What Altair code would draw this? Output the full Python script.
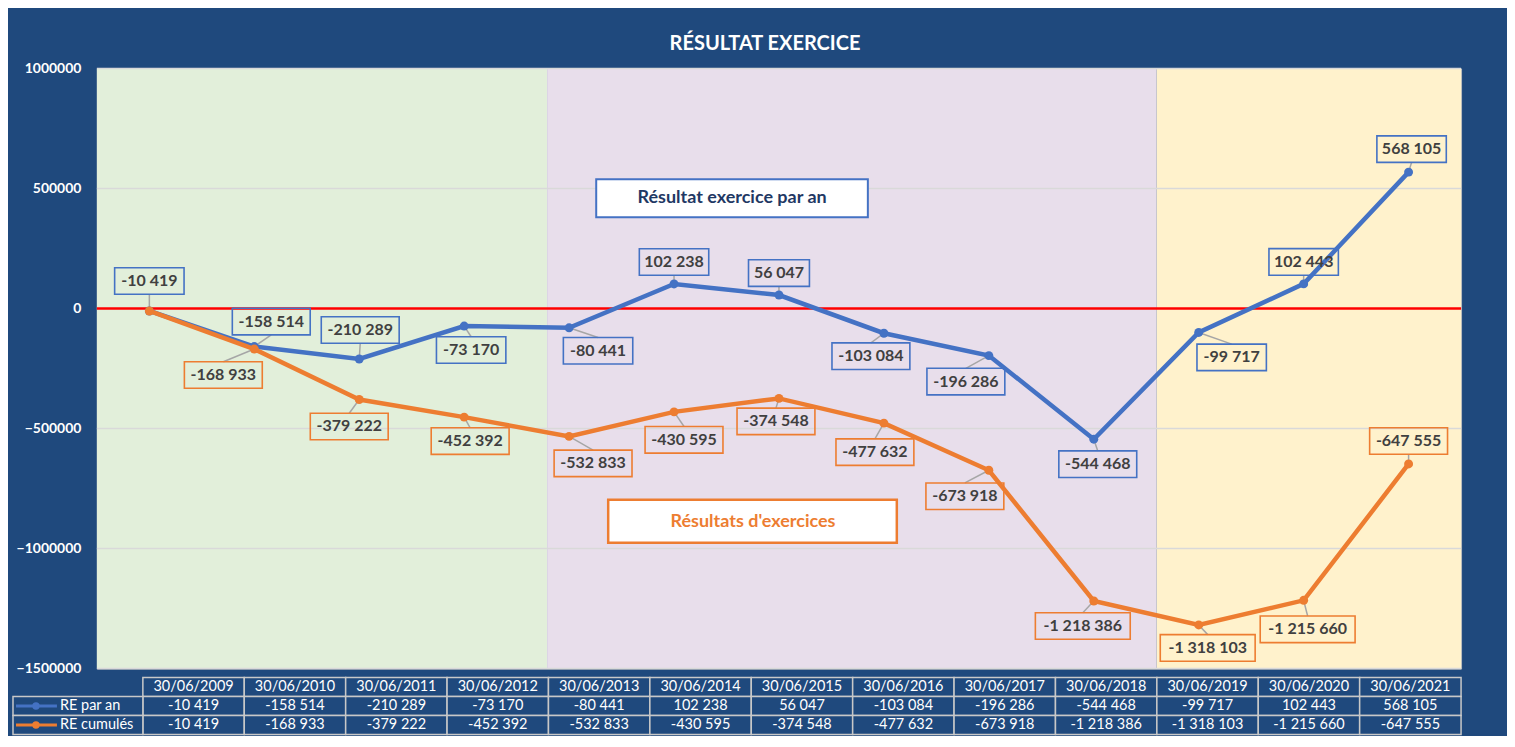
import altair as alt
import pandas as pd

# ---------------- data ----------------
dates = ["30/06/2009", "30/06/2010", "30/06/2011", "30/06/2012", "30/06/2013",
         "30/06/2014", "30/06/2015", "30/06/2016", "30/06/2017", "30/06/2018",
         "30/06/2019", "30/06/2020", "30/06/2021"]
re_par_an = [-10419, -158514, -210289, -73170, -80441, 102238, 56047,
             -103084, -196286, -544468, -99717, 102443, 568105]
re_cumules = [-10419, -168933, -379222, -452392, -532833, -430595, -374548,
              -477632, -673918, -1218386, -1318103, -1215660, -647555]
y_ticks = [1000000, 500000, 0, -500000, -1000000, -1500000]

period_names = ["2009-2012", "2013-2018", "2019-2021"]
period_start = [-0.5, 3.79, 9.6]
period_end = [3.79, 9.6, 12.5]
period_colors = ["#E2EFDA", "#E8DEEB", "#FFF2CC"]

# label placement offsets (pixels, right / down) - styling only
blue_dx = [0, 17, 1, 7, 29, 0, 0, -13, -23, 4, 33, 0, 3]
blue_dy = [-30, -25, -29, 24, 23, -22, -22, 23, 26, 25, 25, -22, -23]
orange_dx = [None, -31, -10, 6, 24, 10, -3, -9, -24, -11, 9, 4, 0]
orange_dy = [None, 26, 27, 24, 27, 28, 23, 29, 26, 25, 23, 29, -23]

BLUE = "#4472C4"
ORANGE = "#ED7D31"
BG = "#1F497D"
FONT = "Lato"

# ---------------- geometry ----------------
W, H = 1366, 601
X_DOM = [-0.5, len(dates) - 0.5]
Y_DOM = [-1500000, 1000000]
PXX = W / (X_DOM[1] - X_DOM[0])          # px per category
UPY = (Y_DOM[1] - Y_DOM[0]) / H          # data units per px
BOX_H = 26.6

x_scale = alt.Scale(domain=X_DOM, nice=False, zero=False)
y_scale = alt.Scale(domain=Y_DOM, nice=False, zero=False)


def fmt(v):
    return f"{v:,}".replace(",", " ")


series_df = pd.DataFrame({
    "i": list(range(len(dates))) * 2,
    "value": re_par_an + re_cumules,
    "series": ["RE par an"] * len(dates) + ["RE cumulés"] * len(dates),
})

rows = []
for name, col, vals, dxs, dys in [("RE par an", BLUE, re_par_an, blue_dx, blue_dy),
                                  ("RE cumulés", ORANGE, re_cumules, orange_dx, orange_dy)]:
    for i, v in enumerate(vals):
        if dxs[i] is None:
            continue
        txt = fmt(v)
        w = 8.5 * len(txt) + 10
        cx = i + dxs[i] / PXX
        cy = v - dys[i] * UPY
        edge = cy + (BOX_H / 2) * UPY if dys[i] > 0 else cy - (BOX_H / 2) * UPY
        rows.append(dict(series=name, col=col, i=i, v=v, text=txt, cx=cx, cy=cy,
                         bx1=cx - w / 2 / PXX, bx2=cx + w / 2 / PXX,
                         by1=cy - BOX_H / 2 * UPY, by2=cy + BOX_H / 2 * UPY,
                         ly=edge))
labels_df = pd.DataFrame(rows)

bands_df = pd.DataFrame({"name": period_names, "start": period_start, "end": period_end,
                         "col": period_colors,
                         "lo": [Y_DOM[0]] * 3, "hi": [Y_DOM[1]] * 3})
bands = alt.Chart(bands_df).mark_rect().encode(
    x=alt.X("start:Q", scale=x_scale, axis=None), x2="end:Q",
    y=alt.Y("lo:Q", scale=y_scale), y2="hi:Q",
    fill=alt.Fill("col:N", scale=None),
)

grid = alt.Chart(pd.DataFrame({"t": [t for t in y_ticks if t != 0]})).mark_rule(
    color="#D9D9D9", strokeWidth=1.5).encode(y=alt.Y("t:Q", scale=y_scale))

zero = alt.Chart(pd.DataFrame({"t": [0]})).mark_rule(color="#FF0000", strokeWidth=2.5).encode(
    y=alt.Y("t:Q", scale=y_scale,
            axis=alt.Axis(values=y_ticks, format="d", labelColor="white", labelFontWeight="bold",
                          labelFontSize=14, labelFont=FONT, grid=False, ticks=False, domain=False,
                          labelPadding=16, minExtent=88, title=None)))

one = pd.DataFrame({"a": [0]})
title_txt = alt.Chart(one).mark_text(text="RÉSULTAT EXERCICE", color="white", fontSize=20,
                                     fontWeight="bold", font=FONT).encode(
    x=alt.value(669), y=alt.value(-24))
ann1_box = alt.Chart(one).mark_rect(fill="white", stroke=BLUE, strokeWidth=2).encode(
    x=alt.value(500), x2=alt.value(772), y=alt.value(111), y2=alt.value(149))
ann1_txt = alt.Chart(one).mark_text(text="Résultat exercice par an", color="#1F3864", fontSize=18,
                                    fontWeight="bold", font=FONT).encode(
    x=alt.value(636), y=alt.value(130))
ann2_box = alt.Chart(one).mark_rect(fill="white", stroke=ORANGE, strokeWidth=2.5).encode(
    x=alt.value(512), x2=alt.value(801), y=alt.value(432), y2=alt.value(475))
ann2_txt = alt.Chart(one).mark_text(text="Résultats d'exercices", color=ORANGE, fontSize=18,
                                    fontWeight="bold", font=FONT).encode(
    x=alt.value(657), y=alt.value(454))

leaders = alt.Chart(labels_df).mark_rule(color="#A6A6A6", strokeWidth=1.5).encode(
    x=alt.X("i:Q", scale=x_scale), x2="cx:Q",
    y=alt.Y("v:Q", scale=y_scale), y2="ly:Q")


def series_layers(name, color):
    base = alt.Chart(series_df).transform_filter(alt.datum.series == name)
    line = base.mark_line(color=color, strokeWidth=4.5).encode(
        x=alt.X("i:Q", scale=x_scale), y=alt.Y("value:Q", scale=y_scale))
    pts = base.mark_circle(color=color, size=80, opacity=1).encode(
        x=alt.X("i:Q", scale=x_scale), y=alt.Y("value:Q", scale=y_scale))
    return [line, pts]


boxes = alt.Chart(labels_df).mark_rect(fillOpacity=0, strokeWidth=1.6).encode(
    x=alt.X("bx1:Q", scale=x_scale), x2="bx2:Q",
    y=alt.Y("by1:Q", scale=y_scale), y2="by2:Q",
    stroke=alt.Stroke("col:N", scale=None))
texts = alt.Chart(labels_df).mark_text(color="#404040", fontSize=16, fontWeight="bold",
                                      font=FONT).encode(
    x=alt.X("cx:Q", scale=x_scale), y=alt.Y("cy:Q", scale=y_scale), text="text:N")

top = alt.layer(
    bands, grid, zero, title_txt, ann1_box, ann1_txt, ann2_box, ann2_txt, leaders,
    *series_layers("RE par an", BLUE), *series_layers("RE cumulés", ORANGE),
    boxes, texts,
).properties(
    width=W, height=H,
    view=alt.ViewBackground(stroke="#BFBFBF", strokeWidth=1),
)

# ---------------- table ----------------
LABEL_PX = 130        # width of the row-label column
TH = 57
CPX = 101.5           # width of a date column
L0 = -LABEL_PX / CPX
tx_scale = alt.Scale(domain=[L0, len(dates)], range=[-(LABEL_PX - (W - 1320)), W],
                     nice=False, zero=False)
ty_scale = alt.Scale(domain=[0, 3], nice=False, zero=False, reverse=True)

cells = []
for j, d in enumerate(dates):
    cells.append(dict(x1=j, x2=j + 1, y1=0, y2=1, xc=j + 0.5, yc=0.5, text=d))
    cells.append(dict(x1=j, x2=j + 1, y1=1, y2=2, xc=j + 0.5, yc=1.5, text=fmt(re_par_an[j])))
    cells.append(dict(x1=j, x2=j + 1, y1=2, y2=3, xc=j + 0.5, yc=2.5, text=fmt(re_cumules[j])))
cells.append(dict(x1=L0, x2=0, y1=1, y2=2, xc=None, yc=1.5, text=""))
cells.append(dict(x1=L0, x2=0, y1=2, y2=3, xc=None, yc=2.5, text=""))
cells_df = pd.DataFrame(cells)

cell_rects = alt.Chart(cells_df).mark_rect(fill=BG, stroke="#C8C8C8", strokeWidth=1.5).encode(
    x=alt.X("x1:Q", scale=tx_scale, axis=None), x2="x2:Q",
    y=alt.Y("y1:Q", scale=ty_scale, axis=None), y2="y2:Q")
cell_text = alt.Chart(cells_df.dropna(subset=["xc"])).mark_text(
    color="white", fontSize=14.5, font=FONT).encode(
    x=alt.X("xc:Q", scale=tx_scale), y=alt.Y("yc:Q", scale=ty_scale), text="text:N")

leg_df = pd.DataFrame({
    "series": ["RE par an", "RE cumulés"],
    "col": [BLUE, ORANGE],
    "yc": [1.5, 2.5],
    "lx1": [L0 + 3 / CPX] * 2,
    "lx2": [L0 + 44 / CPX] * 2,
    "dx": [L0 + 23 / CPX] * 2,
    "tx": [L0 + 47 / CPX] * 2,
})
leg_line = alt.Chart(leg_df).mark_rule(strokeWidth=3).encode(
    x=alt.X("lx1:Q", scale=tx_scale), x2="lx2:Q", y=alt.Y("yc:Q", scale=ty_scale),
    stroke=alt.Stroke("col:N", scale=None))
leg_dot = alt.Chart(leg_df).mark_circle(size=55, opacity=1).encode(
    x=alt.X("dx:Q", scale=tx_scale), y=alt.Y("yc:Q", scale=ty_scale),
    fill=alt.Fill("col:N", scale=None))
leg_txt = alt.Chart(leg_df).mark_text(color="white", fontSize=14.5, font=FONT, align="left").encode(
    x=alt.X("tx:Q", scale=tx_scale), y=alt.Y("yc:Q", scale=ty_scale), text="series:N")

table = alt.layer(cell_rects, cell_text, leg_line, leg_dot, leg_txt).properties(
    width=W, height=TH, view=alt.ViewBackground(strokeWidth=0))

chart = alt.vconcat(top, table, spacing=0).configure(
    background=BG, padding={"left": 0, "top": 25, "right": 44, "bottom": 0}, font=FONT,
).configure_view(strokeWidth=0)

chart.save("out.html", embed_options={"renderer": "svg", "actions": False})
